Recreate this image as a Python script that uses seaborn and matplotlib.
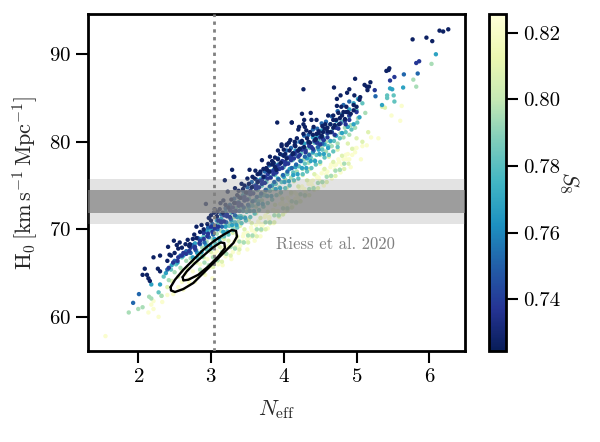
import pandas as pd
import matplotlib
matplotlib.use('Agg')
import matplotlib.pyplot as plt
import seaborn as sns

# S8 level of each group of samples
s8_levels = [0.822, 0.808, 0.795, 0.782, 0.768, 0.752, 0.738, 0.727]

# palest samples, lower edge of the cloud
neff_a = [1.55, 2.14, 2.28, 2.21, 2.18, 2.33, 2.21, 2.4, 2.48, 2.55, 2.62, 2.7, 2.78, 2.85, 2.92, 2.98, 3.02, 3.1, 3.16, 3.2, 3.28, 3.34, 3.38, 3.44, 3.5, 3.52, 3.6, 3.62, 3.68, 3.72, 3.78, 3.8, 3.86, 3.9, 3.94, 4.0, 4.02, 4.08, 4.12, 4.18, 4.22, 4.28, 4.3, 4.38, 4.42, 4.48, 4.55, 4.6, 4.66, 4.72, 4.78, 4.86, 4.92, 4.98, 5.06, 5.14, 5.3, 5.48, 5.6, 5.62,
          2.6, 2.65, 2.7, 2.75, 2.8, 2.85, 2.9, 2.95, 3.0, 3.05, 3.1, 3.15, 3.2, 3.25, 3.3, 3.35, 3.4, 3.45, 3.5, 3.55, 3.6, 3.65, 3.7, 3.75, 3.8, 3.85, 3.9, 3.95, 4.0, 4.05, 4.1, 4.15, 4.2, 4.25, 4.3, 4.35, 4.4, 4.45, 4.5, 4.55, 4.6, 4.65, 4.7, 4.75, 4.8, 4.85, 4.9, 4.97,
          3.02, 3.08, 3.14, 3.2, 3.26, 3.32, 3.38, 3.44, 3.5, 3.56, 3.62, 3.68, 3.74, 3.8, 3.86, 3.92, 3.98, 4.04, 4.1, 4.16, 4.22, 4.28, 4.34, 4.4, 4.46, 4.52, 4.58, 4.64, 4.7, 4.76, 4.82, 4.88, 4.94, 5.0, 5.08, 5.2]
h0_a = [57.8, 60.5, 60.0, 60.9, 61.4, 61.7, 61.8, 62.5, 62.6, 63.4, 63.1, 64.3, 64.0, 65.2, 64.8, 65.6, 64.4, 66.4, 65.9, 67.1, 66.6, 68.0, 67.3, 68.6, 67.7, 69.0, 68.7, 69.9, 69.2, 70.6, 70.1, 71.4, 70.7, 72.0, 71.4, 72.7, 72.0, 73.3, 72.6, 74.0, 73.2, 74.6, 73.9, 75.2, 74.5, 75.9, 75.0, 76.6, 75.8, 77.4, 76.5, 78.0, 77.1, 78.8, 78.0, 79.6, 80.4, 83.0, 82.4, 84.1,
        64.0, 64.9, 63.9, 65.2, 64.6, 66.0, 65.3, 66.6, 65.7, 67.2, 66.0, 67.8, 66.9, 68.2, 67.4, 68.8, 68.1, 69.5, 68.9, 70.2, 69.6, 70.9, 70.3, 71.6, 71.0, 72.2, 71.7, 72.9, 72.4, 73.6, 73.0, 74.2, 73.6, 74.9, 74.2, 75.5, 74.9, 76.1, 75.5, 76.8, 76.1, 77.4, 76.8, 78.0, 77.4, 78.5, 78.0, 79.2,
        66.9, 67.5, 67.2, 68.0, 67.9, 68.6, 68.7, 69.2, 69.6, 69.9, 70.5, 70.6, 71.4, 71.3, 72.2, 72.1, 73.1, 72.8, 74.0, 73.5, 74.7, 74.6, 75.2, 75.6, 75.9, 76.4, 76.3, 77.1, 77.3, 77.7, 78.0, 78.6, 78.5, 79.3, 79.5, 80.5]

neff_b = [2.32, 2.4, 2.46, 2.55, 2.6, 2.68, 2.74, 2.8, 2.86, 2.9, 2.96, 3.0, 3.06, 3.12, 3.18, 3.24, 3.3, 3.36, 3.4, 3.46, 3.52, 3.56, 3.62, 3.68, 3.72, 3.78, 3.84, 3.88, 3.94, 3.98, 4.04, 4.1, 4.14, 4.2, 4.26, 4.32, 4.36, 4.42, 4.5, 4.56, 4.62, 4.68, 4.74, 4.8, 4.88, 4.94, 5.0, 5.08, 5.16, 5.35, 5.39,
          2.9, 2.97, 3.03, 3.09, 3.15, 3.21, 3.27, 3.33, 3.39, 3.45, 3.51, 3.57, 3.63, 3.69, 3.75, 3.81, 3.87, 3.93, 3.99, 4.05, 4.11, 4.17, 4.23, 4.29, 4.35, 4.41, 4.47, 4.53, 4.59, 4.65, 4.71, 4.77, 4.83, 4.89]
h0_b = [62.4, 63.4, 64.1, 64.6, 65.3, 65.5, 66.3, 66.2, 67.1, 66.8, 67.7, 67.4, 68.3, 68.0, 68.9, 68.7, 69.6, 69.2, 70.4, 70.0, 71.1, 70.7, 71.8, 71.3, 72.6, 72.0, 73.4, 72.8, 74.0, 73.5, 74.7, 74.2, 75.5, 74.9, 76.2, 75.6, 76.9, 76.3, 77.5, 76.9, 78.3, 77.7, 79.1, 78.4, 79.8, 79.2, 80.4, 80.0, 81.1, 84.0, 83.9,
        65.0, 65.8, 65.7, 66.4, 66.3, 67.2, 67.0, 67.9, 67.7, 68.5, 68.5, 69.2, 69.2, 69.9, 70.0, 70.7, 70.8, 71.5, 71.7, 72.2, 72.5, 73.0, 73.2, 73.8, 73.9, 74.6, 74.7, 75.4, 75.4, 76.1, 76.1, 76.8, 76.9, 77.5]

neff_c = [1.87, 2.0, 2.06, 2.15, 2.18, 2.32, 2.42, 2.5, 2.58, 2.66, 2.72, 2.8, 2.88, 2.94, 3.02, 3.08, 3.14, 3.2, 3.26, 3.32, 3.38, 3.44, 3.5, 3.56, 3.62, 3.68, 3.74, 3.8, 3.86, 3.92, 3.98, 4.04, 4.1, 4.16, 4.22, 4.28, 4.34, 4.4, 4.46, 4.52, 4.58, 4.64, 4.7, 4.78, 4.84, 4.92, 5.02, 5.12, 5.78, 5.82, 6.03,
          2.85, 2.91, 2.97, 3.03, 3.09, 3.15, 3.21, 3.27, 3.33, 3.39, 3.45, 3.51, 3.57, 3.63, 3.69, 3.75, 3.81, 3.87, 3.93, 3.99, 4.05, 4.11, 4.17, 4.23, 4.29, 4.35, 4.41, 4.47, 4.53, 4.59, 4.65, 4.71, 4.77, 4.83,
          3.14, 3.22, 3.3, 3.38, 3.46, 3.54, 3.62, 3.7, 3.78, 3.86, 3.94, 4.02, 4.1, 4.18, 4.26, 4.34, 4.42, 4.5, 4.58, 4.66, 4.74, 4.82, 4.9, 4.98]
h0_c = [60.5, 60.9, 61.1, 62.3, 62.1, 62.4, 64.2, 65.1, 65.6, 66.4, 66.7, 67.6, 67.9, 68.6, 68.9, 69.5, 69.8, 70.5, 70.6, 71.4, 71.5, 72.2, 72.4, 73.0, 73.3, 73.9, 74.2, 74.8, 75.2, 75.7, 76.1, 76.4, 77.0, 77.2, 77.9, 78.0, 78.6, 78.7, 79.3, 79.4, 80.0, 80.0, 80.7, 81.0, 81.6, 81.9, 82.7, 83.3, 87.1, 86.3, 88.9,
        65.4, 66.2, 65.9, 66.8, 66.5, 67.4, 67.2, 68.0, 67.8, 68.6, 68.5, 69.3, 69.3, 70.0, 70.0, 70.8, 70.8, 71.6, 71.6, 72.4, 72.4, 73.2, 73.1, 74.0, 73.9, 74.6, 74.7, 75.3, 75.4, 76.0, 76.1, 76.7, 76.8, 77.5,
        69.1, 69.8, 70.2, 70.9, 71.4, 72.1, 72.6, 73.3, 73.8, 74.6, 74.8, 75.7, 75.9, 76.6, 76.9, 77.6, 77.9, 78.5, 78.9, 79.5, 79.8, 80.5, 80.8, 81.6]

neff_d = [2.28, 2.35, 2.45, 2.52, 2.6, 2.68, 2.76, 2.84, 2.9, 2.98, 3.04, 3.1, 3.16, 3.22, 3.28, 3.34, 3.4, 3.46, 3.52, 3.58, 3.64, 3.7, 3.76, 3.82, 3.88, 3.94, 4.0, 4.06, 4.12, 4.18, 4.24, 4.3, 4.36, 4.42, 4.48, 4.54, 4.6, 4.66, 4.72, 4.8, 4.9, 5.0, 5.08, 5.42, 5.42, 5.51, 5.52,
          2.82, 2.88, 2.94, 3.0, 3.06, 3.12, 3.18, 3.24, 3.3, 3.36, 3.42, 3.48, 3.54, 3.6, 3.66, 3.72, 3.78, 3.84, 3.9, 3.96, 4.02, 4.08, 4.14, 4.2, 4.26, 4.32, 4.38, 4.44, 4.5, 4.56, 4.62, 4.68, 4.74,
          3.17, 3.25, 3.33, 3.41, 3.49, 3.57, 3.65, 3.73, 3.81, 3.89, 3.97, 4.05, 4.13, 4.21, 4.29, 4.37, 4.45, 4.53, 4.61, 4.69, 4.77, 4.85, 4.93, 5.01]
h0_d = [62.8, 64.6, 65.4, 66.0, 66.8, 67.3, 68.1, 68.8, 69.2, 69.9, 70.0, 70.6, 70.9, 71.5, 71.9, 72.4, 72.6, 73.3, 73.5, 74.2, 74.5, 75.0, 75.4, 76.0, 76.2, 76.9, 77.1, 77.6, 77.9, 78.4, 78.7, 79.2, 79.3, 79.9, 80.1, 80.5, 80.9, 81.2, 81.8, 82.3, 82.9, 83.6, 84.4, 85.3, 85.0, 85.3, 84.6,
        66.7, 66.9, 67.7, 67.8, 68.4, 68.6, 69.2, 69.4, 69.9, 70.2, 70.7, 71.0, 71.4, 71.8, 72.2, 72.6, 73.0, 73.4, 73.9, 74.2, 74.7, 75.0, 75.6, 75.8, 76.3, 76.6, 77.0, 77.4, 77.7, 78.2, 78.5, 78.9, 79.4,
        69.7, 70.4, 70.8, 71.5, 72.0, 72.7, 73.2, 73.9, 74.4, 75.2, 75.4, 76.3, 76.5, 77.2, 77.5, 78.2, 78.5, 79.1, 79.5, 80.1, 80.4, 81.1, 81.4, 82.2]

neff_e = [2.18, 2.3, 2.38, 2.46, 2.54, 2.62, 2.7, 2.78, 2.86, 2.94, 3.0, 3.08, 3.14, 3.2, 3.26, 3.32, 3.38, 3.44, 3.5, 3.56, 3.62, 3.68, 3.74, 3.8, 3.86, 3.92, 3.98, 4.04, 4.1, 4.16, 4.22, 4.28, 4.34, 4.4, 4.46, 4.52, 4.58, 4.64, 4.72, 4.8, 4.9, 4.96, 5.02, 5.35, 5.64, 5.49, 5.46, 6.09,
          2.75, 2.81, 2.87, 2.93, 2.99, 3.05, 3.11, 3.17, 3.23, 3.29, 3.35, 3.41, 3.47, 3.53, 3.59, 3.65, 3.71, 3.77, 3.83, 3.89, 3.95, 4.01, 4.07, 4.13, 4.19, 4.25, 4.31, 4.37, 4.43, 4.49, 4.55, 4.61,
          3.2, 3.28, 3.36, 3.44, 3.52, 3.6, 3.68, 3.76, 3.84, 3.92, 4.0, 4.08, 4.16, 4.24, 4.32, 4.4, 4.48, 4.56, 4.64, 4.72, 4.8, 4.88, 4.96, 5.04]
h0_e = [63.7, 63.7, 65.0, 65.9, 66.2, 67.0, 67.5, 68.4, 68.9, 69.8, 70.1, 71.0, 71.2, 72.0, 72.3, 73.0, 73.1, 73.9, 74.1, 74.8, 75.1, 75.7, 75.9, 76.6, 76.8, 77.4, 77.7, 78.2, 78.4, 79.0, 79.2, 79.8, 79.9, 80.5, 80.6, 81.3, 81.5, 82.0, 82.4, 83.1, 83.7, 84.4, 84.9, 84.2, 86.2, 86.0, 86.1, 90.0,
        66.8, 67.3, 67.4, 68.2, 68.2, 68.9, 69.0, 69.7, 69.7, 70.5, 70.5, 71.3, 71.3, 72.1, 72.1, 72.9, 72.9, 73.8, 73.8, 74.6, 74.7, 75.4, 75.5, 76.2, 76.3, 77.0, 77.0, 77.8, 77.8, 78.6, 78.6, 79.3,
        70.3, 71.0, 71.4, 72.1, 72.6, 73.3, 73.8, 74.5, 75.0, 75.8, 76.0, 76.9, 77.1, 77.8, 78.1, 78.8, 79.1, 79.7, 80.1, 80.7, 81.0, 81.7, 82.0, 82.8]

neff_f = [1.93, 2.01, 2.4, 2.5, 2.58, 2.66, 2.74, 2.82, 2.9, 2.96, 3.02, 3.08, 3.14, 3.2, 3.26, 3.32, 3.38, 3.44, 3.5, 3.56, 3.62, 3.68, 3.74, 3.8, 3.86, 3.92, 3.98, 4.04, 4.1, 4.16, 4.22, 4.28, 4.34, 4.4, 4.46, 4.52, 4.58, 4.66, 4.74, 4.82, 4.9, 5.26, 5.65, 5.84,
          2.72, 2.79, 2.85, 2.91, 2.97, 3.03, 3.09, 3.15, 3.21, 3.27, 3.33, 3.39, 3.45, 3.51, 3.57, 3.63, 3.69, 3.75, 3.81, 3.87, 3.93, 3.99, 4.05, 4.11, 4.17, 4.23, 4.29, 4.35, 4.41, 4.47, 4.53]
h0_f = [61.6, 62.6, 65.4, 66.4, 67.0, 67.5, 68.2, 69.0, 69.6, 70.2, 70.6, 71.4, 71.7, 72.4, 72.8, 73.5, 73.7, 74.4, 74.8, 75.4, 75.7, 76.3, 76.6, 77.3, 77.5, 78.1, 78.5, 79.0, 79.3, 79.9, 80.0, 80.7, 80.8, 81.4, 81.5, 82.1, 82.3, 82.9, 83.5, 84.2, 84.6, 85.2, 87.7, 87.8,
        67.3, 67.6, 68.3, 68.5, 69.1, 69.4, 70.0, 70.3, 70.8, 71.2, 71.6, 72.1, 72.5, 72.8, 73.2, 73.7, 74.1, 74.5, 74.9, 75.4, 75.7, 76.2, 76.6, 77.0, 77.4, 77.8, 78.3, 78.5, 79.0, 79.4, 79.8]

neff_g = [2.55, 2.62, 2.7, 2.78, 2.85, 2.9, 2.95, 3.0, 3.05, 3.1, 3.14, 3.18, 3.22, 3.26, 3.3, 3.34, 3.38, 3.42, 3.46, 3.5, 3.54, 3.58, 3.62, 3.66, 3.7, 3.74, 3.78, 3.82, 3.86, 3.9, 3.94, 3.98, 4.02, 4.06, 4.1, 4.15, 4.2, 4.25, 4.3, 4.35, 4.4, 4.45, 4.5, 4.55, 4.6, 4.7, 4.75, 4.85, 4.9, 5.0, 5.25, 5.46, 5.52, 5.82, 5.86,
          2.42, 2.48, 2.54, 2.6, 2.66, 2.72, 2.78, 2.84, 2.9, 2.96, 3.02, 3.06, 3.1, 3.14, 3.18, 3.22, 3.26, 3.3, 3.34, 3.38, 3.42, 3.46, 3.5, 3.54, 3.58, 3.62, 3.66, 3.7, 3.74, 3.78, 3.82, 3.86, 3.9, 3.94, 3.98, 4.02, 4.06, 4.1, 4.14, 4.18, 4.22, 4.26, 4.3, 4.34, 4.38, 4.42, 4.46, 4.5, 4.54, 4.6, 4.66, 4.72, 4.78, 4.84, 4.9]
h0_g = [66.8, 67.3, 67.5, 68.0, 68.7, 69.6, 69.2, 70.3, 70.1, 71.0, 70.8, 71.6, 71.5, 72.2, 72.0, 73.0, 72.7, 73.6, 73.3, 74.2, 74.0, 74.9, 74.6, 75.5, 75.2, 76.0, 75.8, 76.6, 76.3, 77.2, 76.9, 77.8, 77.4, 78.2, 77.9, 78.6, 78.3, 79.1, 78.8, 79.5, 79.2, 79.9, 79.7, 80.2, 80.5, 80.8, 81.5, 82.0, 82.5, 83.4, 85.9, 87.0, 87.4, 89.0, 89.2,
        65.6, 66.2, 66.4, 67.0, 67.2, 67.9, 67.8, 68.4, 68.9, 69.5, 69.7, 70.4, 70.3, 70.9, 70.9, 71.7, 71.4, 72.5, 72.1, 73.0, 72.8, 73.7, 73.4, 74.4, 74.1, 75.0, 74.8, 75.6, 75.3, 76.3, 75.9, 76.7, 76.5, 77.4, 77.0, 77.7, 77.5, 78.3, 78.1, 78.9, 78.5, 79.3, 79.0, 79.8, 79.4, 80.1, 79.9, 80.5, 80.3, 81.0, 81.1, 81.6, 82.1, 82.4, 83.0]

# darkest samples, upper edge of the cloud
neff_h = [2.06, 2.09, 2.12, 2.14, 2.16, 2.21, 2.27, 2.3, 2.3, 2.4, 2.41, 2.43, 2.49, 2.53, 2.57, 2.68, 2.71, 2.77, 2.8, 2.87, 2.93, 2.97, 3.0, 3.05, 3.09, 3.13, 3.17, 3.19, 3.23, 3.29, 3.31, 3.32, 3.33, 3.38, 3.42, 3.46, 3.5, 3.53, 3.57, 3.61, 3.64, 3.67, 3.7, 3.72, 3.77, 3.79, 3.81, 3.84, 3.86, 3.88, 3.9, 3.91, 3.92, 3.95, 3.97, 3.97, 4.0, 4.02, 4.04, 4.04, 4.07, 4.09, 4.11, 4.11, 4.13, 4.15, 4.15, 4.18, 4.2, 4.21, 4.22, 4.25, 4.25, 4.27, 4.27, 4.28, 4.29, 4.31, 4.34, 4.36, 4.37, 4.38, 4.41, 4.43, 4.45, 4.45, 4.48, 4.52, 4.53, 4.54, 4.57, 4.6, 4.61, 4.64, 4.68, 4.68, 4.69, 4.7, 4.73, 4.73, 4.75, 4.77, 4.78, 4.79, 4.82, 4.86, 4.86, 4.87, 4.9, 4.96, 4.97, 4.98, 5.05, 5.11, 5.14, 5.15, 5.17, 5.19, 5.41, 5.44, 5.45, 5.77, 5.96, 6.04, 6.14, 6.19, 6.26, 4.27,
          2.45, 2.5, 2.55, 2.6, 2.65, 2.7, 2.75, 2.8, 2.85, 2.9, 2.95, 3.0, 3.04, 3.08, 3.12, 3.16, 3.2, 3.24, 3.28, 3.32, 3.36, 3.4, 3.44, 3.48, 3.52, 3.56, 3.6, 3.64, 3.68, 3.72, 3.76, 3.8, 3.84, 3.88, 3.92, 3.96, 4.0, 4.04, 4.08, 4.12, 4.16, 4.2, 4.24, 4.28, 4.32, 4.36, 4.4, 4.44, 4.48, 4.52, 4.56, 4.6, 4.64, 4.68, 4.72, 4.76, 4.8, 4.84, 4.88, 4.92, 4.96, 5.0, 5.04]
h0_h = [64.8, 65.5, 64.8, 64.4, 64.1, 66.8, 65.5, 67.0, 65.2, 66.4, 68.0, 67.1, 68.7, 68.2, 68.5, 68.8, 68.3, 69.4, 70.3, 70.5, 72.9, 71.3, 71.6, 72.3, 72.0, 73.0, 73.3, 75.6, 74.3, 76.8, 76.0, 76.0, 74.7, 74.4, 75.2, 75.0, 75.8, 76.8, 76.0, 76.7, 76.3, 76.4, 77.9, 76.9, 76.8, 77.5, 78.3, 77.8, 77.6, 78.2, 76.8, 82.2, 79.0, 78.6, 79.7, 79.5, 79.1, 78.6, 79.7, 79.6, 79.9, 80.2, 82.2, 82.2, 78.7, 79.6, 80.0, 80.4, 81.4, 81.7, 79.2, 83.2, 80.1, 80.9, 82.0, 82.5, 81.7, 81.3, 80.0, 81.1, 83.3, 82.5, 81.7, 80.2, 82.5, 80.9, 81.0, 80.6, 81.8, 81.1, 82.0, 81.6, 83.0, 81.1, 83.0, 82.5, 86.2, 81.9, 84.1, 84.9, 83.3, 82.7, 85.3, 84.0, 83.4, 84.0, 83.4, 85.6, 86.0, 83.6, 85.3, 87.2, 85.1, 86.5, 86.3, 85.9, 86.3, 86.8, 88.1, 88.2, 88.4, 91.7, 91.9, 91.5, 92.7, 92.6, 92.85, 86.0,
        67.0, 67.3, 67.8, 67.9, 68.3, 68.1, 68.9, 69.0, 69.7, 70.0, 70.6, 71.0, 71.9, 71.5, 72.3, 71.9, 72.8, 72.5, 73.4, 73.0, 73.9, 73.6, 74.6, 74.2, 75.2, 74.8, 75.8, 75.4, 76.6, 76.0, 77.0, 76.6, 77.4, 77.1, 78.0, 77.6, 78.4, 78.1, 79.0, 78.6, 79.5, 79.0, 79.9, 79.4, 80.4, 79.9, 80.8, 80.3, 81.2, 80.7, 81.5, 81.2, 82.0, 81.6, 82.5, 82.0, 83.0, 82.6, 83.4, 83.2, 84.2, 84.0, 84.8]

groups = [(neff_a, h0_a), (neff_b, h0_b), (neff_c, h0_c), (neff_d, h0_d),
          (neff_e, h0_e), (neff_f, h0_f), (neff_g, h0_g), (neff_h, h0_h)]

# contours
outer_x = [2.446, 2.505, 2.62, 2.757, 2.894, 3.032, 3.169, 3.284, 3.344, 3.357, 3.307, 3.192, 3.055, 2.894, 2.757, 2.62, 2.505, 2.45, 2.446]
outer_y = [63.41, 64.24, 65.38, 66.52, 67.66, 68.61, 69.37, 69.91, 69.83, 69.18, 68.43, 67.47, 66.33, 65.0, 63.87, 63.18, 62.84, 63.02, 63.41]
inner_x = [2.611, 2.666, 2.78, 2.894, 3.032, 3.133, 3.183, 3.192, 3.1, 2.963, 2.825, 2.688, 2.62, 2.611]
inner_y = [64.55, 65.19, 66.15, 66.98, 67.97, 68.5, 68.43, 67.86, 66.9, 65.76, 64.81, 64.24, 64.16, 64.55]

h0_band = [71.9, 74.5]
h0_band_2s = [70.6, 75.8]
neff_std = 3.04
s8_range = (0.7244, 0.8257)

rows = []
for lev, (xs, ys) in zip(s8_levels, groups):
    for a, b in zip(xs, ys):
        rows.append({'neff': a, 'h0': b, 's8': lev})
df = pd.DataFrame(rows)

sns.set_style('ticks')
plt.rcParams['font.family'] = 'cmr10'
plt.rcParams['mathtext.fontset'] = 'cm'
plt.rcParams['axes.formatter.use_mathtext'] = True
plt.rcParams['axes.unicode_minus'] = False

fig = plt.figure(figsize=(6, 4.42), dpi=100)
ax = fig.add_axes([88/600, 1-351/442, 377/600, 337/442])
cax = fig.add_axes([489/600, 1-351/442, 17/600, 337/442])

sns.scatterplot(data=df, x='neff', y='h0', hue='s8', palette='YlGnBu_r', hue_norm=s8_range,
                s=10, linewidth=0, legend=False, ax=ax, zorder=2)

ax.axhspan(h0_band_2s[0], h0_band_2s[1], color='grey', alpha=0.22, lw=0, zorder=3)
ax.axhspan(h0_band[0], h0_band[1], color='grey', alpha=0.7, lw=0, zorder=3)
ax.axvline(neff_std, color='grey', lw=2, ls=(0, (1.2, 1.6)), zorder=4)
ax.plot(outer_x, outer_y, color='k', lw=1.7, zorder=5)
ax.plot(inner_x, inner_y, color='k', lw=1.7, zorder=5)
ax.text(3.9, 68.3, 'Riess et al. 2020', color='grey', fontsize=12, va='center')

ax.set_xlim(1.31, 6.49)
ax.set_ylim(56.1, 94.6)
ax.set_xticks([2, 3, 4, 5, 6])
ax.set_yticks([60, 70, 80, 90])
ax.set_xlabel(r'$N_{\mathrm{eff}}$', fontsize=16, labelpad=9)
ax.set_ylabel(r'$\mathrm{H}_0\,[\mathrm{km\,s^{-1}\,Mpc^{-1}}]$', fontsize=16, labelpad=7)
ax.tick_params(width=1.5, length=8.5, labelsize=15, color='k', labelcolor='k')
for sp in ax.spines.values():
    sp.set_linewidth(2)
    sp.set_color('k')

sm = plt.cm.ScalarMappable(norm=plt.Normalize(*s8_range), cmap='YlGnBu_r')
cb = fig.colorbar(sm, cax=cax)
cb.set_ticks([0.74, 0.76, 0.78, 0.80, 0.82])
cb.set_ticklabels(['0.74', '0.76', '0.78', '0.80', '0.82'])
cb.ax.tick_params(width=1.5, length=8.5, labelsize=15, color='k', labelcolor='k')
cb.outline.set_linewidth(2)
cb.outline.set_edgecolor('k')
cb.set_label(r'$S_8$', rotation=270, fontsize=16, labelpad=15)

fig.savefig('out.png', dpi=100)
